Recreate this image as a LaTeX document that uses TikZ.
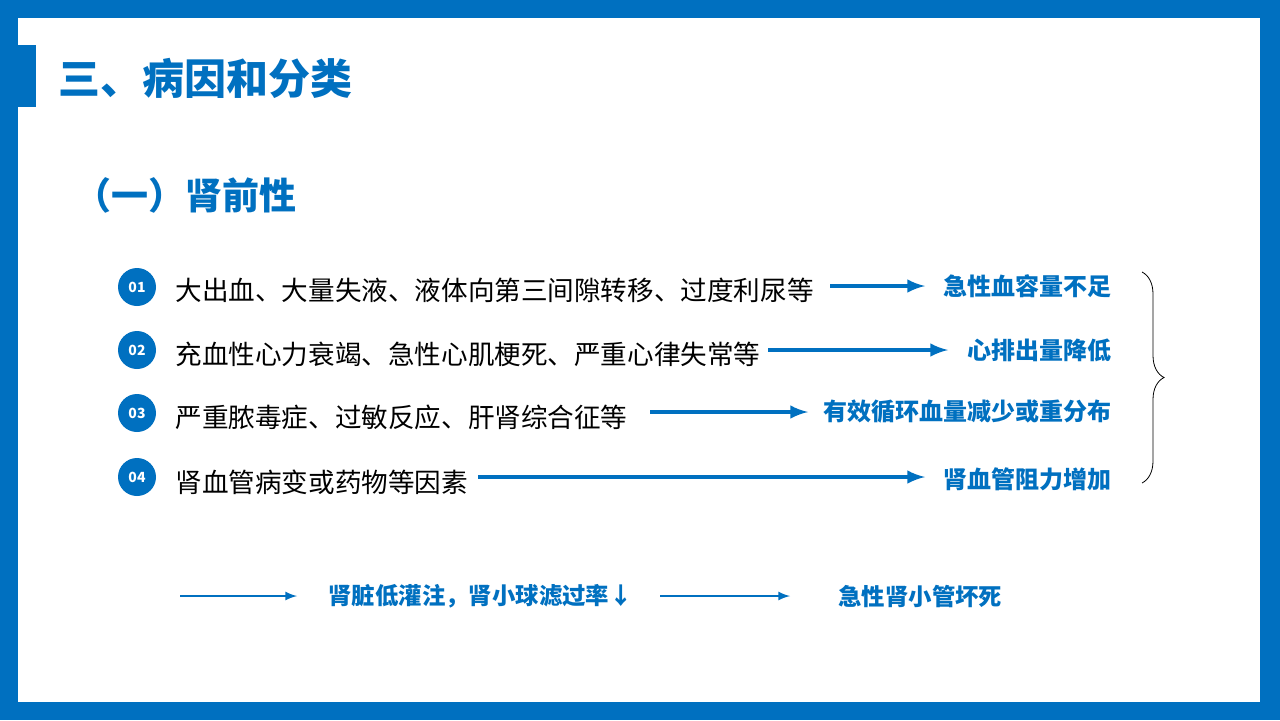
\documentclass[tikz,border=0pt]{standalone}
\usepackage{fontspec}
\setmainfont{Noto Sans CJK SC}
\usetikzlibrary{decorations.pathreplacing}
\definecolor{pptblue}{RGB}{0,112,192}
\begin{document}
\begin{tikzpicture}[x=0.5pt,y=-0.5pt]
\tikzset{
  num/.style={circle,fill=pptblue,text=white,minimum size=19pt,inner sep=0pt,font=\fontsize{7}{8}\selectfont\bfseries},
  cause/.style={anchor=west,inner sep=0pt,font=\fontsize{13.3}{15}\selectfont},
  effect/.style={anchor=east,inner sep=0pt,text=pptblue,font=\fontsize{12}{14}\selectfont\bfseries},
  result/.style={anchor=west,inner sep=0pt,text=pptblue,font=\fontsize{11.7}{13}\selectfont\bfseries},
  thick arrow/.style={draw=pptblue,line width=2pt,-latex},
  thin arrow/.style={draw=pptblue,line width=1pt,-latex}
}
\fill[pptblue] (0,0) rectangle (1280,720);
\fill[white] (18,18) rectangle (1260,702);
\fill[pptblue] (18,45) rectangle (36,107);
\node[anchor=west,inner sep=0pt,text=pptblue,font=\fontsize{21}{24}\selectfont\bfseries] (title) at (58,78) {三、病因和分类};
\node[anchor=west,inner sep=0pt,text=pptblue,font=\fontsize{18.5}{21}\selectfont\bfseries] (sub) at (74,195) {（一）肾前性};
\node[num] (n1) at (137,287) {01};
\node[num] (n2) at (137,350) {02};
\node[num] (n3) at (137,413) {03};
\node[num] (n4) at (137,477) {04};
\node[cause] (c1) at (175,290) {大出血、大量失液、液体向第三间隙转移、过度利尿等};
\node[cause] (c2) at (175,354) {充血性心力衰竭、急性心肌梗死、严重心律失常等};
\node[cause] (c3) at (175,417) {严重脓毒症、过敏反应、肝肾综合征等};
\node[cause] (c4) at (175,482) {肾血管病变或药物等因素};
\node[effect] (e1) at (1112,286) {急性血容量不足};
\node[effect] (e2) at (1112,350) {心排出量降低};
\node[effect] (e3) at (1112,412) {有效循环血量减少或重分布};
\node[effect] (e4) at (1112,479) {肾血管阻力增加};
\draw[thick arrow] (830,286) -- (925,286);
\draw[thick arrow] (768,350) -- (948,350);
\draw[thick arrow] (650,412) -- (808,412);
\draw[thick arrow] (478,477) -- (925,477);
\coordinate (bt) at (1142,272);
\coordinate (bb) at (1142,483);
\draw[decorate,decoration={brace,amplitude=11pt}] (bt) -- (bb);
\node[result] (r1) at (328,596) {肾脏低灌注，肾小球滤过率↓};
\node[result] (r2) at (838,596) {急性肾小管坏死};
\draw[thin arrow] (180,596) -- (297,596);
\draw[thin arrow] (660,596) -- (790,596);
\end{tikzpicture}
\end{document}
